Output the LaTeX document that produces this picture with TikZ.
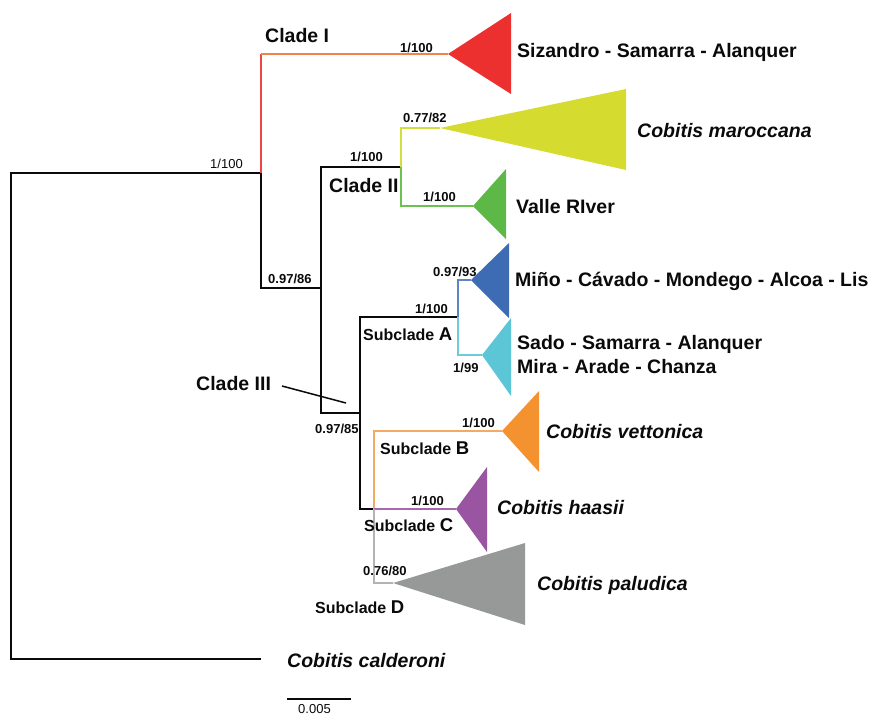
\documentclass[tikz,border=0pt]{standalone}
\usepackage{fontspec}
\setmainfont{Liberation Sans}
\definecolor{cRed}{HTML}{EC3030}
\definecolor{cRedLine}{HTML}{F04545}
\definecolor{cRedH}{HTML}{F4804C}
\definecolor{cYel}{HTML}{D5DC2F}
\definecolor{cYelLine}{HTML}{D2DE3C}
\definecolor{cGrn}{HTML}{5DB847}
\definecolor{cGrnLine}{HTML}{6CC24E}
\definecolor{cBlu}{HTML}{3D6CB4}
\definecolor{cBluLine}{HTML}{5C84C6}
\definecolor{cCyn}{HTML}{5CC6D6}
\definecolor{cCynLine}{HTML}{6DCCDC}
\definecolor{cOra}{HTML}{F3922F}
\definecolor{cOraLine}{HTML}{F4AA62}
\definecolor{cPur}{HTML}{9A55A2}
\definecolor{cPurLine}{HTML}{A766AE}
\definecolor{cGry}{HTML}{979999}
\definecolor{cGryLine}{HTML}{B3B3B3}
\definecolor{cTxt}{HTML}{0A0A0A}
\tikzset{
  br/.style={line width=2pt, draw=cTxt, line join=miter},
  cbr/.style={line width=2pt, line join=miter},
  bsup/.style={font=\bfseries\fontsize{13}{13}\selectfont, anchor=base west, inner sep=0pt, text=cTxt},
  rsup/.style={font=\fontsize{13}{13}\selectfont, anchor=base west, inner sep=0pt, text=cTxt},
  clab/.style={font=\bfseries\fontsize{19.5}{20}\selectfont, anchor=base west, inner sep=0pt, text=cTxt},
  splab/.style={font=\bfseries\itshape\fontsize{19.5}{20}\selectfont, anchor=base west, inner sep=0pt, text=cTxt},
  sublab/.style={font=\bfseries\fontsize{16}{16}\selectfont, anchor=base west, inner sep=0pt, text=cTxt},
}
\newcommand{\subL}[1]{Subclade {\fontsize{18.5}{19}\selectfont #1}}
\begin{document}
\begin{tikzpicture}[x=1pt,y=-1pt]
\useasboundingbox (0,0) rectangle (877,716);
% ---------- coordinates ----------
\coordinate (rt) at (11,173);
\coordinate (rb) at (11,659);
\coordinate (cal) at (261,659);
\coordinate (a1) at (261,173);
\coordinate (cI) at (261,54);
\coordinate (a2) at (261,288);
\coordinate (b2) at (321,288);
\coordinate (cII) at (321,167);
\coordinate (cIII) at (321,413);
\coordinate (y0) at (401,167);
\coordinate (y1) at (401,128);
\coordinate (g1) at (401,206);
\coordinate (sA0) at (360,413);
\coordinate (sA) at (360,317);
\coordinate (bcd) at (360,509);
\coordinate (aN) at (458,317);
\coordinate (aBl) at (458,280);
\coordinate (aCy) at (458,355);
\coordinate (bcdN) at (374,509);
\coordinate (bN) at (374,431);
\coordinate (dN) at (374,583);
% apices
\coordinate (tRed) at (448,54);
\coordinate (tYel) at (440,128);
\coordinate (tGrn) at (473,206);
\coordinate (tBlu) at (471,280);
\coordinate (tCyn) at (482,355);
\coordinate (tOra) at (502,431);
\coordinate (tPur) at (456,509);
\coordinate (tGry) at (393,583);
% ---------- triangles ----------
\fill[cRed] (tRed) -- (511,13) -- (511,94) -- cycle;
\fill[cYel] (tYel) -- (626,89) -- (626,170) -- cycle;
\fill[cGrn] (tGrn) -- (506,169) -- (506,239) -- cycle;
\fill[cBlu] (tBlu) -- (509,243) -- (509,318) -- cycle;
\fill[cCyn] (tCyn) -- (511,318) -- (511,396) -- cycle;
\fill[cOra] (tOra) -- (539,391) -- (539,472) -- cycle;
\fill[cPur] (tPur) -- (487,467) -- (487,552) -- cycle;
\fill[cGry] (tGry) -- (525,543) -- (525,625) -- cycle;
% ---------- branches ----------
\draw[br] (cal) -- (rb) -- (rt) -- (a1) -- (a2) -- (b2);
\draw[br] (y0) -- (cII) -- (cIII) -- (sA0);
\draw[br] (aN) -- (sA) -- (bcd) -- (bcdN);
\draw[cbr, cRedLine] (a1) -- (cI);
\draw[cbr, cRedH] (cI) -- (tRed);
\draw[cbr, cYelLine] (y0) -- (y1) -- (tYel);
\draw[cbr, cGrnLine] (y0) -- (g1) -- (tGrn);
\draw[cbr, cBluLine] (aN) -- (aBl) -- (tBlu);
\draw[cbr, cCynLine] (aN) -- (aCy) -- (tCyn);
\draw[cbr, cOraLine] (bcdN) -- (bN) -- (tOra);
\draw[cbr, cPurLine] (bcdN) -- (tPur);
\draw[cbr, cGryLine] (bcdN) -- (dN) -- (tGry);
% ---------- support values ----------
\node[rsup] (s0) at (210,168) {1/100};
\node[bsup] (s1) at (400,52) {1/100};
\node[bsup] (s2) at (403,122) {0.77/82};
\node[bsup] (s3) at (350,161) {1/100};
\node[bsup] (s4) at (423,201) {1/100};
\node[bsup] (s5) at (268,283) {0.97/86};
\node[bsup] (s6) at (433,276) {0.97/93};
\node[bsup] (s7) at (415,313) {1/100};
\node[bsup] (s8) at (453,372) {1/99};
\node[bsup] (s9) at (315,433) {0.97/85};
\node[bsup] (s10) at (462,427) {1/100};
\node[bsup] (s11) at (411,505) {1/100};
\node[bsup] (s12) at (363,575) {0.76/80};
% ---------- clade labels ----------
\node[clab] (lI) at (265,42) {Clade I};
\node[clab] (lII) at (329,192) {Clade II};
\node[clab] (lIII) at (196,390) {Clade III};
\coordinate (p1) at (282,386);
\coordinate (p2) at (346,403);
\draw[line width=1.5pt, cTxt] (p1) -- (p2);
\node[sublab] (lA) at (363,340) {\subL{A}};
\node[sublab] (lB) at (380,454) {\subL{B}};
\node[sublab] (lC) at (364,531) {\subL{C}};
\node[sublab] (lD) at (315,613) {\subL{D}};
% ---------- taxa ----------
\node[clab] (t1) at (517,57) {Sizandro - Samarra - Alanquer};
\node[splab] (t2) at (637,137) {Cobitis maroccana};
\node[clab] (t3) at (516,213) {Valle RIver};
\node[clab] (t4) at (515,286) {Miño - Cávado - Mondego - Alcoa - Lis};
\node[clab] (t5) at (517,349) {Sado - Samarra - Alanquer};
\node[clab] (t6) at (517,373) {Mira - Arade - Chanza};
\node[splab] (t7) at (546,438) {Cobitis vettonica};
\node[splab] (t8) at (497,514) {Cobitis haasii};
\node[splab] (t9) at (537,590) {Cobitis paludica};
\node[splab] (t10) at (287,667) {Cobitis calderoni};
% ---------- scale bar ----------
\coordinate (sb1) at (287,699);
\coordinate (sb2) at (351,699);
\draw[line width=1.2pt, cTxt] (sb1) -- (sb2);
\node[rsup] (sbl) at (298,713) {0.005};
\end{tikzpicture}
\end{document}
